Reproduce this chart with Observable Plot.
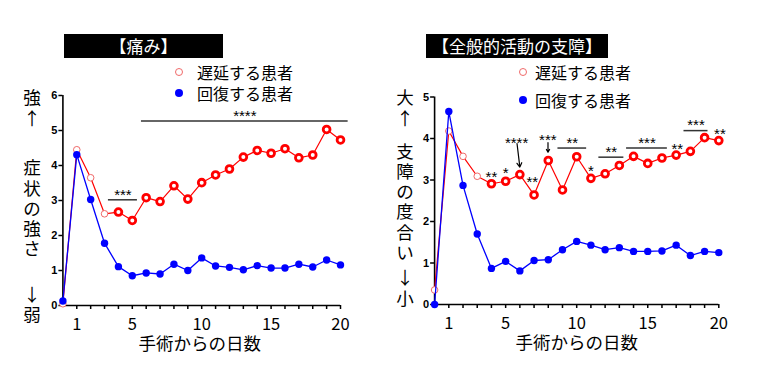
<!DOCTYPE html>
<html><head><meta charset="utf-8">
<script src="https://cdn.jsdelivr.net/npm/d3@7"></script>
<script src="https://cdn.jsdelivr.net/npm/@observablehq/plot@0.6"></script>
<style>
body{margin:0;background:#fff;}
#wrap{position:relative;width:765px;height:380px;overflow:hidden;font-family:"Noto Sans CJK JP",sans-serif;color:#000;}
.panel{position:absolute;top:0;}
.panel svg{overflow:visible;}
.title{position:absolute;background:#000;color:#fff;font-size:17px;text-align:center;line-height:24px;height:24px;white-space:nowrap;}
.leg{position:absolute;font-size:16px;line-height:20px;white-space:nowrap;}
.sym{position:absolute;width:8px;height:8px;border-radius:50%;box-sizing:border-box;}
.ych{position:absolute;font-size:17.5px;width:24px;height:17px;text-align:center;line-height:17px;}
</style></head>
<body><div id="wrap"></div>
<script>
// ---- data ----
const days = d3.range(0, 21);
const labelledDays = [1, 5, 10, 15, 20];
const painDelayed     = [0.05, 4.45, 3.65, 2.62, 2.67, 2.43, 3.08, 2.97, 3.42, 3.04, 3.51, 3.73, 3.90, 4.24, 4.43, 4.35, 4.48, 4.22, 4.30, 5.03, 4.73];
const painRecovered   = [0.13, 4.31, 3.03, 1.78, 1.11, 0.85, 0.93, 0.90, 1.18, 1.00, 1.36, 1.13, 1.09, 1.02, 1.14, 1.07, 1.07, 1.18, 1.10, 1.30, 1.16];
const actDelayed      = [0.35, 4.18, 3.57, 3.09, 2.91, 2.97, 3.13, 2.64, 3.47, 2.76, 3.56, 3.04, 3.15, 3.35, 3.57, 3.40, 3.53, 3.60, 3.69, 4.02, 3.95];
const actRecovered    = [0.00, 4.65, 2.87, 1.70, 0.87, 1.04, 0.81, 1.06, 1.08, 1.32, 1.52, 1.43, 1.32, 1.37, 1.28, 1.28, 1.29, 1.43, 1.18, 1.28, 1.25];
const seriesNames = ["遅延する患者", "回復する患者"];
const panelTitles = ["【痛み】", "【全般的活動の支障】"];
const xTitle = "手術からの日数";
const painTicks = [0, 1, 2, 3, 4, 5, 6];
const actTicks = [0, 1, 2, 3, 4, 5];
// significance annotations (data coordinates)
const painSigLines = [
  {x1: 3.28, x2: 5.37, y: 3.02, label: "***"},
  {x1: 5.66, x2: 20.55, y: 5.27, label: "****"}
];
const painSigMarks = [];
const painArrows = [];
const actSigLines = [
  {x1: 8.68, x2: 10.70, y: 3.77, label: "**"},
  {x1: 11.56, x2: 13.32, y: 3.55, label: "**"},
  {x1: 13.51, x2: 16.38, y: 3.77, label: "***"},
  {x1: 17.55, x2: 19.24, y: 4.19, label: "***"}
];
const actSigMarks = [
  {x: 4.0, y: 3.16, label: "**"},
  {x: 5.0, y: 3.25, label: "*"},
  {x: 5.77, y: 3.99, label: "****"},
  {x: 6.87, y: 3.04, label: "**"},
  {x: 7.97, y: 4.05, label: "***"},
  {x: 11.0, y: 3.31, label: "*"},
  {x: 17.08, y: 3.85, label: "**"},
  {x: 20.08, y: 4.19, label: "**"}
];
const actArrows = [
  {x1: 5.8, y1: 3.88, x2: 6.0, y2: 3.31},
  {x1: 7.98, y1: 3.90, x2: 7.98, y2: 3.67}
];
const painYLabel = [["強", "↑"], ["症", "状", "の", "強", "さ"], ["↓", "弱"]];
const actYLabel = [["大", "↑"], ["支", "障", "の", "度", "合", "い"], ["↓", "小"]];

// ---- drawing ----
const wrap = document.getElementById("wrap");
const RED = "#ff0000", PALE = "#f06a6a", BLUE = "#0000ff";
const starFont = "Liberation Sans, Arial, sans-serif";

function makePanel(cfg) {
  const del = days.map((d, i) => ({day: d, v: cfg.delayed[i]}));
  const rec = days.map((d, i) => ({day: d, v: cfg.recovered[i]}));
  const yMax = cfg.ticks[cfg.ticks.length - 1];
  const plot = Plot.plot({
    width: cfg.width, height: 380,
    marginLeft: cfg.ml, marginRight: cfg.mr, marginTop: cfg.mt, marginBottom: cfg.mb,
    x: {domain: [0, 20]},
    y: {domain: [0, yMax]},
    style: {fontFamily: "Noto Sans CJK JP, sans-serif", background: "transparent", overflow: "visible"},
    marks: [
      Plot.axisY({ticks: cfg.ticks, tickSize: 4, tickPadding: 1.5, fontSize: 11, fontWeight: "bold",
        fontFamily: "Liberation Sans, Arial, sans-serif", label: null, strokeWidth: 1.5, stroke: "#000",
        tickFormat: d => String(d)}),
      Plot.axisX({ticks: days.slice(1), tickSize: 4, tickPadding: 8.5, fontSize: 16.5, label: null,
        tickFormat: d => labelledDays.includes(d) ? String(d) : "", strokeWidth: 1.5, stroke: "#000"}),
      Plot.ruleX([0], {stroke: "#000", strokeWidth: 1.6}),
      Plot.ruleY([0], {stroke: "#000", strokeWidth: 1.6}),
      Plot.text([xTitle], {x: () => 10, frameAnchor: "bottom", lineAnchor: "middle", dy: 39, dx: cfg.titleDx, fontSize: 17.5, text: d => d}),
      Plot.ruleY(cfg.sigLines, {y: "y", x1: "x1", x2: "x2", stroke: "#333", strokeWidth: 1.5}),
      Plot.text(cfg.sigLines, {x: d => (d.x1 + d.x2) / 2, y: "y", text: "label", dy: -5, fontSize: 15, fontFamily: starFont}),
      Plot.text(cfg.sigMarks, {x: "x", y: "y", text: "label", dy: 4, fontSize: 15, fontFamily: starFont}),
      Plot.arrow(cfg.arrows, {x1: "x1", y1: "y1", x2: "x2", y2: "y2", stroke: "#000", strokeWidth: 1.2, headLength: 6}),
      Plot.line(del, {x: "day", y: "v", stroke: RED, strokeWidth: 1.2}),
      Plot.dot(del.filter(d => d.day <= 3), {x: "day", y: "v", r: 3.3, stroke: PALE, strokeWidth: 1, fill: "white"}),
      Plot.dot(del.filter(d => d.day >= 4), {x: "day", y: "v", r: 3.4, stroke: RED, strokeWidth: 2.8, fill: "white"}),
      Plot.line(rec, {x: "day", y: "v", stroke: BLUE, strokeWidth: 1.3}),
      Plot.dot(rec, {x: "day", y: "v", r: 3.7, fill: BLUE, stroke: "none"})
    ]
  });
  const div = document.createElement("div");
  div.className = "panel";
  div.style.left = cfg.left + "px";
  div.appendChild(plot);
  wrap.appendChild(div);
}

makePanel({left: 0, width: 382, ml: 62.4, mr: 42, mt: 95, mb: 75, ticks: painTicks,
  delayed: painDelayed, recovered: painRecovered, sigLines: painSigLines, sigMarks: painSigMarks, arrows: painArrows, titleDx: -2});
makePanel({left: 382, width: 383, ml: 52.1, mr: 46.7, mt: 96.5, mb: 76, ticks: actTicks,
  delayed: actDelayed, recovered: actRecovered, sigLines: actSigLines, sigMarks: actSigMarks, arrows: actArrows, titleDx: 0});

function addDiv(cls, text, css) {
  const e = document.createElement("div");
  e.className = cls;
  if (text != null) e.textContent = text;
  Object.assign(e.style, css);
  wrap.appendChild(e);
  return e;
}
// titles
addDiv("title", panelTitles[0], {left: "64px", top: "34px", width: "159px"});
addDiv("title", panelTitles[1], {left: "426px", top: "34px", width: "182px"});
// legends
function legend(cx, y1, y2, tx) {
  addDiv("sym", null, {left: (cx - 4) + "px", top: (y1 - 4) + "px", border: "1px solid " + PALE, background: "#fff"});
  addDiv("sym", null, {left: (cx - 4) + "px", top: (y2 - 4) + "px", background: BLUE});
  addDiv("leg", seriesNames[0], {left: tx + "px", top: (y1 - 10) + "px"});
  addDiv("leg", seriesNames[1], {left: tx + "px", top: (y2 - 10) + "px"});
}
legend(179, 71.7, 93.3, 197);
legend(523.3, 71.7, 100, 535);
// vertical y labels: one character per line
function yLabel(groups, cx, centers) {
  groups.forEach((g, i) => {
    g.forEach((ch, j) => {
      addDiv("ych", ch, {left: (cx - 12) + "px", top: (centers[i] + j * 20.3 - 8.5) + "px"});
    });
  });
}
yLabel(painYLabel, 32, [96.7, 166.7, 293.3]);
yLabel(actYLabel, 405, [96.7, 150, 276.7]);
</script>
</body></html>
